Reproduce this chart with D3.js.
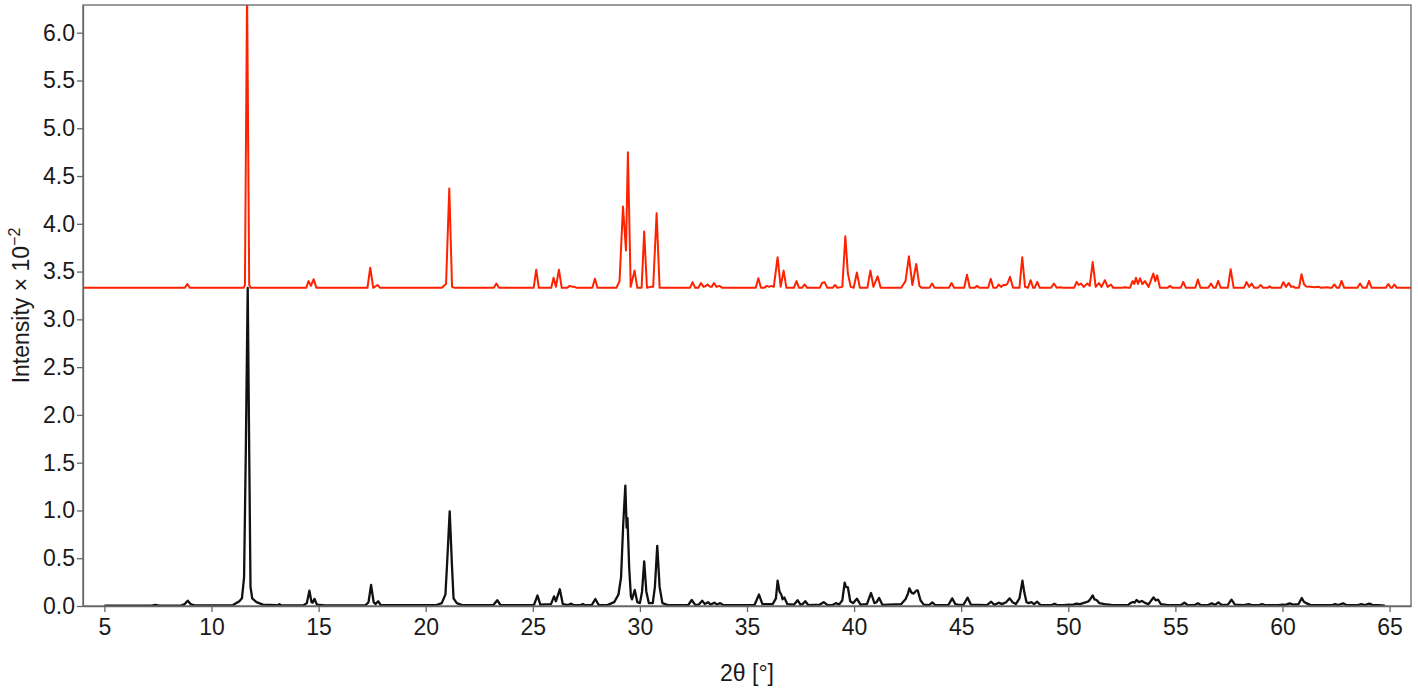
<!DOCTYPE html>
<html>
<head>
<meta charset="utf-8">
<script src="https://cdn.jsdelivr.net/npm/d3@7"></script>
<style>
  html, body { margin: 0; padding: 0; background: #fff; }
  svg { display: block; }
  text { font-family: "Liberation Sans", Arial, Helvetica, sans-serif; fill: #1a1a1a; }
</style>
</head>
<body>
<svg id="chart" width="1418" height="691"></svg>
<script>
// ---- Data (2θ in degrees, intensity ×10^-2) ----
const xTicks = [5, 10, 15, 20, 25, 30, 35, 40, 45, 50, 55, 60, 65];
const yTicks = [0.0, 0.5, 1.0, 1.5, 2.0, 2.5, 3.0, 3.5, 4.0, 4.5, 5.0, 5.5, 6.0];
const xDomain = [4, 66];
const yDomain = [0, 6.29];

// Calculated pattern (red, offset upward)
const redPattern = [
  [4.0,3.33],
  [8.75,3.33],[8.87,3.37],[8.99,3.33],
  [11.5,3.33],[11.56,3.36],[11.66,6.45],[11.76,3.36],[11.82,3.33],
  [14.42,3.33],[14.53,3.40],[14.64,3.35],[14.77,3.42],[14.9,3.33],
  [17.28,3.33],[17.41,3.54],[17.55,3.33],[17.62,3.34],[17.75,3.36],[17.87,3.33],
  [20.75,3.33],[20.95,3.37],[21.10,4.37],[21.23,3.34],[21.35,3.33],
  [23.18,3.33],[23.30,3.375],[23.42,3.33],
  [25.04,3.33],[25.16,3.52],[25.28,3.33],
  [25.86,3.33],[25.97,3.435],[26.08,3.34],[26.22,3.52],[26.35,3.33],
  [26.6,3.33],[26.72,3.35],[26.85,3.34],[26.95,3.34],[27.05,3.33],
  [27.78,3.33],[27.90,3.425],[28.02,3.33],
  [28.9,3.33],[29.05,3.40],[29.21,4.18],[29.35,3.72],[29.44,4.75],[29.57,3.34],[29.75,3.51],[29.88,3.33],
  [30.08,3.33],[30.20,3.92],[30.33,3.33],[30.5,3.34],[30.62,3.34],[30.78,4.11],[30.92,3.33],
  [32.34,3.33],[32.46,3.39],[32.58,3.33],[32.73,3.33],[32.85,3.38],[32.97,3.34],[33.05,3.345],[33.16,3.365],
  [33.28,3.34],[33.35,3.34],[33.46,3.38],[33.58,3.34],[33.71,3.35],[33.85,3.33],
  [35.41,3.33],[35.53,3.43],[35.65,3.33],[35.8,3.33],[35.92,3.35],[36.03,3.34],[36.14,3.35],[36.25,3.34],
  [36.43,3.65],[36.57,3.34],[36.71,3.51],[36.84,3.33],
  [37.19,3.33],[37.31,3.40],[37.43,3.33],[37.57,3.33],[37.69,3.365],[37.81,3.33],
  [38.4,3.33],[38.50,3.38],[38.62,3.39],[38.75,3.33],[39.0,3.33],[39.11,3.36],[39.22,3.33],
  [39.45,3.34],[39.59,3.87],[39.71,3.48],[39.84,3.34],[39.98,3.33],[40.13,3.49],[40.27,3.33],
  [40.62,3.33],[40.76,3.51],[40.9,3.34],[41.10,3.45],[41.24,3.33],
  [42.2,3.33],[42.4,3.40],[42.56,3.66],[42.72,3.36],[42.90,3.58],[43.05,3.35],[43.15,3.33],
  [43.52,3.33],[43.64,3.375],[43.76,3.33],
  [44.43,3.33],[44.55,3.38],[44.67,3.33],
  [45.14,3.33],[45.27,3.466],[45.40,3.33],[45.62,3.33],[45.74,3.35],[45.86,3.33],
  [46.26,3.33],[46.38,3.424],[46.5,3.33],[46.65,3.33],[46.75,3.365],[46.86,3.34],[46.97,3.36],[47.08,3.36],
  [47.15,3.37],[47.28,3.445],[47.42,3.33],
  [47.72,3.33],[47.85,3.65],[47.98,3.34],[48.12,3.33],[48.24,3.41],[48.36,3.33],[48.43,3.33],[48.55,3.393],[48.67,3.33],
  [49.2,3.33],[49.33,3.375],[49.46,3.33],[49.6,3.335],[49.75,3.33],
  [50.27,3.33],[50.39,3.393],[50.49,3.36],[50.59,3.375],[50.72,3.34],[50.89,3.375],[51.0,3.35],[51.14,3.60],
  [51.28,3.34],[51.43,3.38],[51.55,3.34],[51.71,3.41],[51.84,3.34],[51.99,3.365],[52.1,3.33],
  [52.5,3.33],[52.65,3.335],[52.8,3.33],
  [52.88,3.33],[53.00,3.40],[53.08,3.37],[53.16,3.435],[53.25,3.37],[53.35,3.43],[53.46,3.37],[53.58,3.40],
  [53.75,3.34],[53.97,3.48],[54.06,3.40],[54.15,3.46],[54.28,3.33],
  [54.63,3.33],[54.75,3.35],[54.87,3.33],
  [55.25,3.33],[55.37,3.393],[55.49,3.33],
  [55.93,3.33],[56.05,3.417],[56.17,3.33],
  [56.54,3.33],[56.66,3.375],[56.78,3.33],[56.88,3.33],[57.00,3.403],[57.12,3.33],
  [57.45,3.33],[57.58,3.525],[57.72,3.33],
  [58.2,3.33],[58.32,3.39],[58.44,3.34],[58.56,3.375],[58.68,3.33],[58.86,3.33],[58.98,3.36],[59.1,3.33],
  [59.3,3.33],[59.4,3.345],[59.5,3.33],
  [59.92,3.33],[60.04,3.39],[60.16,3.34],[60.29,3.38],[60.4,3.34],[60.5,3.345],[60.6,3.33],
  [60.77,3.33],[60.89,3.473],[61.0,3.37],[61.1,3.345],[61.3,3.34],[61.5,3.335],[61.7,3.34],[61.8,3.33],
  [62.1,3.335],[62.2,3.33],
  [62.3,3.33],[62.42,3.365],[62.54,3.33],[62.64,3.33],[62.76,3.403],[62.88,3.33],
  [63.5,3.33],[63.62,3.375],[63.74,3.33],[63.92,3.33],[64.04,3.403],[64.16,3.33],
  [64.82,3.33],[64.94,3.37],[65.06,3.33],[65.12,3.33],[65.22,3.365],[65.34,3.33],
  [66.0,3.33]
];

// Measured pattern (black)
const blackPattern = [
  [5.0,0.003],[7.2,0.004],[7.38,0.012],[7.55,0.004],[8.6,0.006],[8.75,0.02],[8.89,0.056],[9.02,0.02],[9.2,0.006],
  [11.0,0.01],[11.3,0.05],[11.42,0.08],[11.52,0.3],[11.6,1.6],[11.69,3.33],[11.76,1.6],[11.82,0.2],[11.9,0.08],
  [12.1,0.04],[12.4,0.015],[13.0,0.008],[13.1,0.006],[13.17,0.02],[13.25,0.006],
  [14.3,0.008],[14.45,0.03],[14.57,0.16],[14.67,0.04],[14.72,0.035],[14.81,0.075],[14.92,0.015],[15.3,0.006],
  [17.2,0.01],[17.33,0.04],[17.45,0.22],[17.57,0.04],[17.65,0.02],[17.78,0.05],[17.9,0.008],
  [20.5,0.01],[20.75,0.03],[20.92,0.12],[21.0,0.45],[21.12,0.99],[21.22,0.45],[21.3,0.08],[21.45,0.03],[21.7,0.01],
  [23.15,0.008],[23.34,0.06],[23.5,0.008],
  [25.05,0.01],[25.22,0.11],[25.35,0.015],[25.85,0.02],[25.99,0.10],[26.08,0.05],[26.26,0.175],[26.4,0.02],
  [26.65,0.01],[26.79,0.025],[26.9,0.01],[27.2,0.008],[27.34,0.02],[27.45,0.008],[27.75,0.01],[27.92,0.073],[28.08,0.01],
  [28.5,0.012],[28.8,0.04],[29.0,0.12],[29.12,0.3],[29.22,0.85],[29.32,1.26],[29.38,0.82],[29.42,0.92],[29.5,0.4],
  [29.58,0.1],[29.63,0.07],[29.76,0.167],[29.88,0.04],[30.0,0.03],[30.1,0.15],[30.2,0.467],[30.3,0.15],[30.42,0.03],
  [30.6,0.03],[30.7,0.2],[30.81,0.63],[30.92,0.2],[31.05,0.03],[31.3,0.01],
  [32.25,0.008],[32.42,0.063],[32.58,0.012],[32.75,0.015],[32.91,0.056],[33.03,0.02],[33.18,0.04],[33.3,0.015],
  [33.48,0.035],[33.6,0.015],[33.75,0.03],[33.9,0.008],
  [35.35,0.01],[35.56,0.12],[35.72,0.02],[36.2,0.02],[36.35,0.08],[36.43,0.265],[36.52,0.15],[36.6,0.12],[36.66,0.07],
  [36.74,0.09],[36.88,0.02],[37.2,0.015],[37.36,0.06],[37.5,0.015],[37.6,0.02],[37.72,0.05],[37.86,0.01],
  [38.4,0.015],[38.58,0.04],[38.75,0.012],[39.0,0.01],[39.15,0.03],[39.3,0.015],[39.45,0.06],[39.56,0.244],
  [39.62,0.2],[39.71,0.195],[39.82,0.05],[39.95,0.03],[40.13,0.077],[40.3,0.015],[40.6,0.02],[40.79,0.136],
  [40.95,0.03],[41.05,0.04],[41.17,0.084],[41.32,0.012],
  [42.2,0.02],[42.4,0.07],[42.5,0.12],[42.58,0.185],[42.68,0.14],[42.78,0.13],[42.9,0.16],[42.97,0.164],
  [43.1,0.06],[43.25,0.015],[43.5,0.01],[43.65,0.038],[43.8,0.008],
  [44.4,0.01],[44.58,0.08],[44.72,0.02],[44.85,0.015],[45.1,0.01],[45.3,0.087],[45.45,0.015],[46.2,0.01],
  [46.4,0.045],[46.55,0.012],[46.75,0.035],[46.9,0.02],[47.1,0.04],[47.26,0.08],[47.4,0.04],[47.55,0.02],
  [47.72,0.08],[47.86,0.265],[47.95,0.14],[48.05,0.04],[48.15,0.03],[48.28,0.04],[48.4,0.02],[48.55,0.045],[48.7,0.01],
  [49.2,0.008],[49.36,0.024],[49.5,0.008],[49.8,0.01],[50.0,0.015],[50.2,0.012],[50.38,0.024],[50.55,0.02],
  [50.8,0.038],[50.95,0.05],[51.05,0.08],[51.14,0.11],[51.22,0.07],[51.32,0.063],[51.45,0.03],[51.7,0.02],
  [52.0,0.012],[52.3,0.01],
  [52.8,0.012],[52.9,0.03],[53.02,0.042],[53.1,0.035],[53.19,0.063],[53.3,0.04],[53.44,0.052],[53.6,0.03],
  [53.75,0.02],[53.88,0.06],[53.98,0.09],[54.08,0.06],[54.19,0.066],[54.32,0.02],[54.6,0.012],
  [55.25,0.008],[55.42,0.035],[55.58,0.008],[55.9,0.01],[56.05,0.028],[56.2,0.008],[56.55,0.012],[56.7,0.028],
  [56.85,0.012],[57.01,0.038],[57.15,0.012],[57.45,0.015],[57.62,0.066],[57.78,0.015],[58.2,0.01],[58.42,0.02],
  [58.6,0.008],[58.9,0.01],[59.05,0.02],[59.2,0.008],[59.8,0.01],[60.0,0.015],[60.15,0.012],[60.33,0.028],
  [60.5,0.015],[60.75,0.02],[60.9,0.084],[61.0,0.045],[61.1,0.03],[61.3,0.012],[61.6,0.008],
  [62.3,0.008],[62.45,0.02],[62.6,0.01],[62.83,0.028],[63.0,0.008],[63.5,0.008],[63.67,0.02],[63.85,0.01],
  [64.05,0.024],[64.2,0.012],[64.5,0.008],[64.78,0.004]
];

// ---- Layout ----
const margin = { left: 83, top: 5, right: 7, bottom: 85 };
const W = 1418, H = 691;
const plotW = W - margin.left - margin.right;
const plotH = H - margin.top - margin.bottom;

const svg = d3.select("#chart");

const x = d3.scaleLinear().domain(xDomain).range([margin.left, margin.left + plotW]);
const y = d3.scaleLinear().domain(yDomain).range([margin.top + plotH, margin.top]);

svg.append("defs").append("clipPath").attr("id", "plotClip")
  .append("rect")
  .attr("x", margin.left).attr("y", margin.top)
  .attr("width", plotW).attr("height", plotH);

const line = d3.line().x(d => x(d[0])).y(d => y(d[1]));

const plot = svg.append("g").attr("clip-path", "url(#plotClip)");

plot.append("path")
  .datum(redPattern)
  .attr("fill", "none")
  .attr("stroke", "#ff2200")
  .attr("stroke-width", 2)
  .attr("stroke-linejoin", "round")
  .attr("d", line);

plot.append("path")
  .datum(blackPattern)
  .attr("fill", "none")
  .attr("stroke", "#111")
  .attr("stroke-width", 2.3)
  .attr("stroke-linejoin", "round")
  .attr("d", line);

// Frame
svg.append("rect")
  .attr("x", margin.left).attr("y", margin.top)
  .attr("width", plotW).attr("height", plotH)
  .attr("fill", "none").attr("stroke", "#666").attr("stroke-width", 1.3);

// Axes
const xAxis = svg.append("g")
  .attr("transform", `translate(0,${margin.top + plotH})`)
  .call(d3.axisBottom(x).tickValues(xTicks).tickFormat(d3.format("d")).tickSize(6).tickPadding(7).tickSizeOuter(0));
const yAxis = svg.append("g")
  .attr("transform", `translate(${margin.left},0)`)
  .call(d3.axisLeft(y).tickValues(yTicks).tickFormat(d3.format(".1f")).tickSize(6).tickPadding(2).tickSizeOuter(0));

[xAxis, yAxis].forEach(a => {
  a.select(".domain").attr("stroke", "#666").attr("stroke-width", 1.3);
  a.selectAll(".tick line").attr("stroke", "#666").attr("stroke-width", 1.3);
  a.selectAll(".tick text").attr("font-size", 23).attr("fill", "#111")
    .style("font-family", '"Liberation Sans", Arial, sans-serif');
});

// Axis titles
svg.append("text")
  .attr("x", margin.left + plotW / 2)
  .attr("y", 681)
  .attr("text-anchor", "middle")
  .attr("font-size", 23)
  .text("2θ [°]");

const yTitle = svg.append("text")
  .attr("transform", `translate(29,${margin.top + plotH / 2}) rotate(-90)`)
  .attr("text-anchor", "middle")
  .attr("font-size", 23);
yTitle.append("tspan").text("Intensity × 10");
yTitle.append("tspan").attr("dy", -9).attr("font-size", 16).text("−2");
</script>
</body>
</html>
